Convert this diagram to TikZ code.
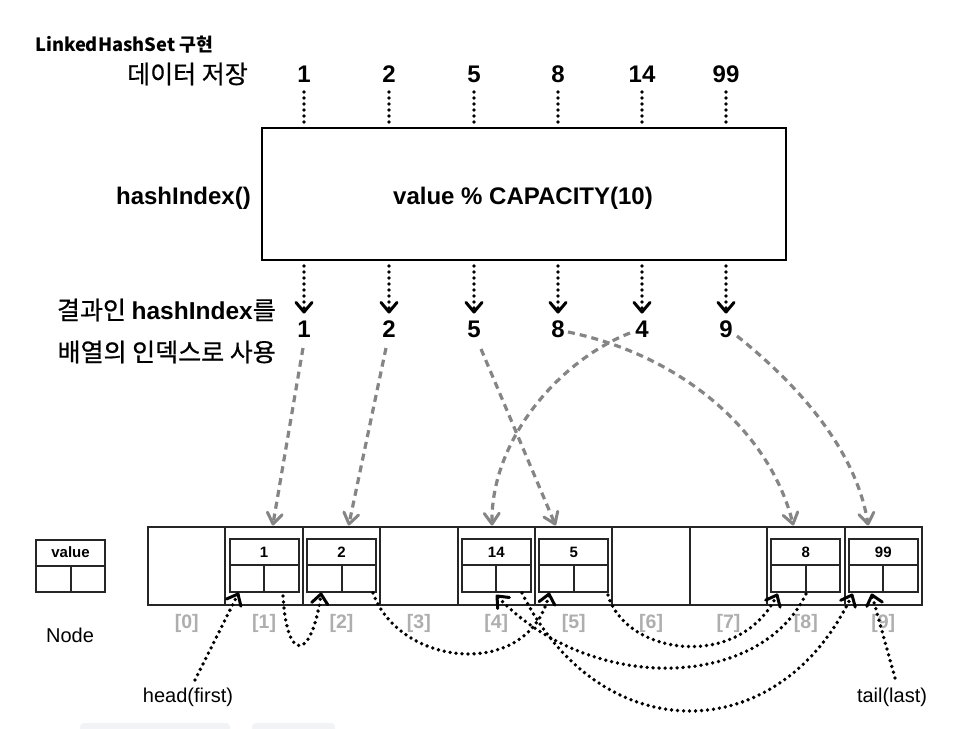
\documentclass[tikz,border=0pt]{standalone}
\usepackage{fontspec}
\setmainfont{Liberation Sans}
\newfontfamily\kr{Noto Sans CJK KR}[FakeBold=0.6]
\newfontfamily\krb{Noto Sans CJK KR}
\usetikzlibrary{calc}
\definecolor{lg}{HTML}{858585}
\definecolor{idx}{HTML}{AEAEAE}
\definecolor{ln}{HTML}{262626}
\definecolor{faint}{HTML}{F2F3F6}
\newcommand\vtipk[2]{\draw[tpk] ($(#1)!12.5pt!40:(#2)$) -- (#1) -- ($(#1)!12.5pt!-40:(#2)$);}
\newcommand\vtipg[2]{\draw[tpg] ($(#1)!13pt!35:(#2)$) -- (#1) -- ($(#1)!13pt!-35:(#2)$);}
\begin{document}
\begin{tikzpicture}[x=1pt,y=-1pt,
  big/.style={inner sep=0pt, font=\bfseries\fontsize{24}{28}\selectfont},
  krt/.style={inner sep=0pt, font=\kr\fontsize{25}{29}\selectfont},
  mid/.style={inner sep=0pt, font=\fontsize{20}{24}\selectfont},
  idxl/.style={inner sep=0pt, text=idx, font=\bfseries\fontsize{19.5}{24}\selectfont},
  cell/.style={draw=ln, line width=2pt, minimum width=77.4pt, minimum height=78pt, inner sep=0pt},
  vbox/.style={draw=ln, line width=2pt, minimum width=69pt, minimum height=26pt, inner sep=0pt, font=\bfseries\fontsize{15}{17}\selectfont},
  sbox/.style={draw=ln, line width=2pt, minimum width=34.5pt, minimum height=26.5pt, inner sep=0pt},
  blk/.style={draw=black, line width=3.8pt, line cap=round, dash pattern=on 0pt off 6pt},
  tpk/.style={draw=black, solid, line width=3pt, line cap=round, line join=round},
  gd/.style={draw=lg, line width=3.2pt, dash pattern=on 7pt off 5pt},
  tpg/.style={draw=lg, solid, line width=3pt, line cap=round, line join=round}
]
\useasboundingbox (0,0) rectangle (974,728);
\fill[white] (0,0) rectangle (974,728);
\fill[faint, rounded corners=4pt] (80,723) rectangle (230,734);
\fill[faint, rounded corners=4pt] (252,723) rectangle (335,734);

% title and labels
\node[anchor=west, inner sep=0pt, font=\krb\bfseries\fontsize{18.3}{22}\selectfont] (title) at (35,45) {LinkedHashSet 구현};
\node[krt, anchor=east] (store) at (248,74) {데이터 저장};
\node[big, anchor=east] (hfn) at (251,198) {hashIndex()};
\node[krt, anchor=east] (res1) at (276,310) {결과인 {\rmfamily\bfseries\fontsize{24.5}{28}\selectfont hashIndex}를};
\node[krt, anchor=east] (res2) at (276,352) {배열의 인덱스로 사용};

% hash box
\node[draw=black, line width=2.8pt, minimum width=524pt, minimum height=132pt, inner sep=0pt] (box) at (524,194) {};
\node[big] (formula) at (523,198) {value \% CAPACITY(10)};

% input numbers
\foreach \x/\v [count=\k] in {304/1,389/2,474/5,558/8,642/14,726/99} {
  \node[big] (in\k) at (\x,74) {\v};
  \coordinate (ia\k) at (\x,92);
  \coordinate (ib\k) at (\x,127);
  \draw[blk] (ia\k) -- (ib\k);
  \coordinate (oa\k) at (\x,266);
  \coordinate (ob\k) at (\x,312);
  \draw[blk] (oa\k) -- (ob\k);
  \vtipk{ob\k}{oa\k}
}
\foreach \x/\v [count=\k] in {304/1,389/2,474/5,558/8,642/4,726/9} {
  \node[big] (out\k) at (\x,329) {\v};
}

% array cells
\foreach \i in {0,...,9} {
  \node[cell] (c\i) at ({186.7+77.4*\i},565.5) {};
  \node[idxl] (ix\i) at ({186.7+77.4*\i},623) {[\i]};
}

% linked nodes inside cells
\foreach \i/\v in {1/1,2/2,4/14,5/5,8/8,9/99} {
  \node[vbox] (v\i) at ({186.7+77.4*\i},552) {\v};
  \node[sbox] (p\i) at ({186.7+77.4*\i-17.25},578.5) {};
  \node[sbox] (n\i) at ({186.7+77.4*\i+17.25},578.5) {};
}

% legend node
\node[vbox] (lv) at (70.5,552.5) {value};
\node[sbox] (lp) at (53.25,579) {};
\node[sbox] (ln) at (87.75,579) {};
\node[mid] (nodelbl) at (70,635) {Node};

% gray dashed hash arrows
\coordinate (g1s) at (303,348); \coordinate (g1e) at (273,524);
\coordinate (g2s) at (386,348); \coordinate (g2e) at (349,524);
\coordinate (g3s) at (481,349); \coordinate (g3e) at (555,524);
\coordinate (g4s) at (568,332); \coordinate (g4e) at (793,524); \coordinate (g4c) at (770,430);
\coordinate (g5s) at (630,333); \coordinate (g5e) at (492,524); \coordinate (g5c) at (490,440);
\coordinate (g6s) at (737,336); \coordinate (g6e) at (868,524); \coordinate (g6c) at (855,440);
\draw[gd] (g1s) -- (g1e);
\vtipg{g1e}{g1s}
\draw[gd] (g2s) -- (g2e);
\vtipg{g2e}{g2s}
\draw[gd] (g3s) -- (g3e);
\vtipg{g3e}{g3s}
\draw[gd] (g4s) .. controls (680,355) and (g4c) .. (g4e);
\vtipg{g4e}{g4c}
\draw[gd] (g5s) .. controls (560,360) and (g5c) .. (g5e);
\vtipg{g5e}{g5c}
\draw[gd] (g6s) .. controls (782,372) and (g6c) .. (g6e);
\vtipg{g6e}{g6c}

% head / tail
\node[mid] (head) at (188,697) {head(first)};
\node[mid] (tail) at (892,697) {tail(last)};
\coordinate (hs) at (195,680); \coordinate (h1) at (238,594);
\coordinate (ts) at (895,678); \coordinate (t9) at (872,595);

% linked list pointers
\coordinate (o1) at (283,596); \coordinate (i2) at (321,594); \coordinate (c12) at (312,660);
\coordinate (o2) at (373,593); \coordinate (i5) at (549,594); \coordinate (c25) at (530,680);
\coordinate (o5) at (608,595); \coordinate (i8) at (777,595); \coordinate (c58) at (740,672);
\coordinate (o8) at (806,594); \coordinate (i4) at (497,596); \coordinate (c84) at (590,695);
\coordinate (o4) at (522,593); \coordinate (i9) at (852,595); \coordinate (c49) at (780,750);

\draw[blk] (hs) -- (h1);
\vtipk{h1}{hs}
\draw[blk] (o1) .. controls (287,665) and (c12) .. (i2);
\vtipk{i2}{c12}
\draw[blk] (o2) .. controls (400,668) and (c25) .. (i5);
\vtipk{i5}{c25}
\draw[blk] (o5) .. controls (625,655) and (c58) .. (i8);
\vtipk{i8}{c58}
\draw[blk] (o8) .. controls (760,690) and (c84) .. (i4);
\vtipk{i4}{c84}
\draw[blk] (o4) .. controls (600,750) and (c49) .. (i9);
\vtipk{i9}{c49}
\draw[blk] (ts) -- (t9);
\vtipk{t9}{ts}
\end{tikzpicture}
\end{document}
